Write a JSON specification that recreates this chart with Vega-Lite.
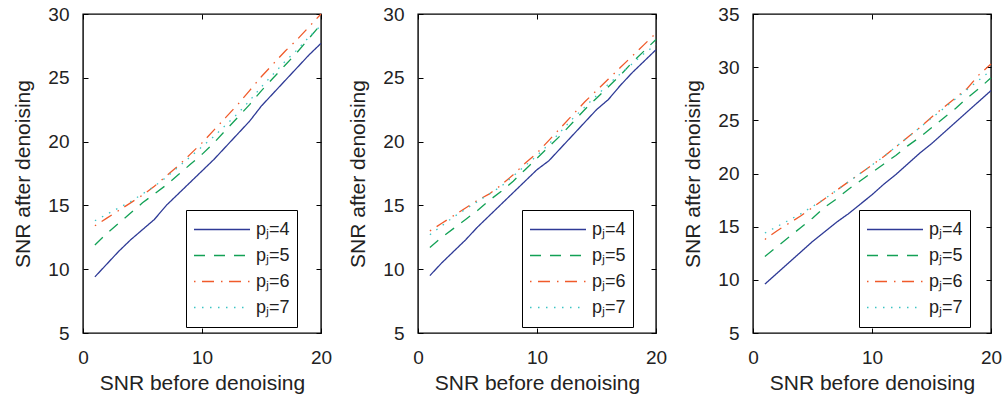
{
  "$schema": "https://vega.github.io/schema/vega-lite/v6.json",
  "padding": {"left": 12, "top": 4, "right": 0, "bottom": 0},
  "bounds": "flush",
  "spacing": 97,
  "config": {
    "font": "Liberation Sans",
    "view": {"stroke": "black", "strokeWidth": 1.4},
    "axis": {
      "domain": false, "grid": false, "ticks": true, "tickColor": "black", "tickWidth": 1,
      "tickSize": -5, "labelFont": "Liberation Sans", "labelFontSize": 19, "labelColor": "#222",
      "labelPadding": 20, "titleFont": "Liberation Sans", "titleFontSize": 21,
      "titleFontWeight": "normal", "titleColor": "#222", "labelFlush": false, "labelOverlap": false
    },
    "axisY": {"labelPadding": 19, "titlePadding": 14},
    "axisX": {"titlePadding": 5},
    "legend": {
      "title": null, "orient": "none", "legendY": 196, "strokeColor": "black", "fillColor": "white",
      "padding": 7, "symbolType": "stroke", "symbolSize": 3136, "symbolStrokeWidth": 1.3,
      "labelFontSize": 18, "labelFont": "Liberation Sans", "labelColor": "#222",
      "clipHeight": 25, "rowPadding": 1, "labelOffset": 5
    }
  },
  "datasets": {
    "p1": [
      {"x":1,"s":"pⱼ=4","y":9.4},{"x":2,"s":"pⱼ=4","y":10.4},{"x":3,"s":"pⱼ=4","y":11.4},{"x":4,"s":"pⱼ=4","y":12.3},{"x":5,"s":"pⱼ=4","y":13.1},{"x":6,"s":"pⱼ=4","y":13.9},{"x":7,"s":"pⱼ=4","y":15.0},{"x":8,"s":"pⱼ=4","y":15.9},{"x":9,"s":"pⱼ=4","y":16.8},{"x":10,"s":"pⱼ=4","y":17.7},{"x":11,"s":"pⱼ=4","y":18.6},{"x":12,"s":"pⱼ=4","y":19.6},{"x":13,"s":"pⱼ=4","y":20.6},{"x":14,"s":"pⱼ=4","y":21.6},{"x":15,"s":"pⱼ=4","y":22.8},{"x":16,"s":"pⱼ=4","y":23.8},{"x":17,"s":"pⱼ=4","y":24.8},{"x":18,"s":"pⱼ=4","y":25.8},{"x":19,"s":"pⱼ=4","y":26.8},{"x":20,"s":"pⱼ=4","y":27.7},
      {"x":1,"s":"pⱼ=5","y":11.9},{"x":2,"s":"pⱼ=5","y":12.8},{"x":3,"s":"pⱼ=5","y":13.6},{"x":4,"s":"pⱼ=5","y":14.4},{"x":5,"s":"pⱼ=5","y":15.2},{"x":6,"s":"pⱼ=5","y":15.9},{"x":7,"s":"pⱼ=5","y":16.6},{"x":8,"s":"pⱼ=5","y":17.4},{"x":9,"s":"pⱼ=5","y":18.2},{"x":10,"s":"pⱼ=5","y":19.0},{"x":11,"s":"pⱼ=5","y":19.9},{"x":12,"s":"pⱼ=5","y":20.9},{"x":13,"s":"pⱼ=5","y":21.9},{"x":14,"s":"pⱼ=5","y":22.9},{"x":15,"s":"pⱼ=5","y":24.0},{"x":16,"s":"pⱼ=5","y":25.0},{"x":17,"s":"pⱼ=5","y":26.0},{"x":18,"s":"pⱼ=5","y":27.0},{"x":19,"s":"pⱼ=5","y":28.1},{"x":20,"s":"pⱼ=5","y":29.2},
      {"x":1,"s":"pⱼ=6","y":13.4},{"x":2,"s":"pⱼ=6","y":14.0},{"x":3,"s":"pⱼ=6","y":14.6},{"x":4,"s":"pⱼ=6","y":15.2},{"x":5,"s":"pⱼ=6","y":15.8},{"x":6,"s":"pⱼ=6","y":16.5},{"x":7,"s":"pⱼ=6","y":17.3},{"x":8,"s":"pⱼ=6","y":18.1},{"x":9,"s":"pⱼ=6","y":19.0},{"x":10,"s":"pⱼ=6","y":19.9},{"x":11,"s":"pⱼ=6","y":20.9},{"x":12,"s":"pⱼ=6","y":21.9},{"x":13,"s":"pⱼ=6","y":22.9},{"x":14,"s":"pⱼ=6","y":24.0},{"x":15,"s":"pⱼ=6","y":25.1},{"x":16,"s":"pⱼ=6","y":26.1},{"x":17,"s":"pⱼ=6","y":27.1},{"x":18,"s":"pⱼ=6","y":28.0},{"x":19,"s":"pⱼ=6","y":29.0},{"x":20,"s":"pⱼ=6","y":30.0},
      {"x":1,"s":"pⱼ=7","y":13.8},{"x":2,"s":"pⱼ=7","y":14.3},{"x":3,"s":"pⱼ=7","y":14.8},{"x":4,"s":"pⱼ=7","y":15.3},{"x":5,"s":"pⱼ=7","y":15.9},{"x":6,"s":"pⱼ=7","y":16.5},{"x":7,"s":"pⱼ=7","y":17.2},{"x":8,"s":"pⱼ=7","y":18.0},{"x":9,"s":"pⱼ=7","y":18.8},{"x":10,"s":"pⱼ=7","y":19.6},{"x":11,"s":"pⱼ=7","y":20.4},{"x":12,"s":"pⱼ=7","y":21.3},{"x":13,"s":"pⱼ=7","y":22.2},{"x":14,"s":"pⱼ=7","y":23.2},{"x":15,"s":"pⱼ=7","y":24.3},{"x":16,"s":"pⱼ=7","y":25.3},{"x":17,"s":"pⱼ=7","y":26.3},{"x":18,"s":"pⱼ=7","y":27.2},{"x":19,"s":"pⱼ=7","y":28.2},{"x":20,"s":"pⱼ=7","y":29.1}
    ],
    "p2": [
      {"x":1,"s":"pⱼ=4","y":9.5},{"x":2,"s":"pⱼ=4","y":10.5},{"x":3,"s":"pⱼ=4","y":11.4},{"x":4,"s":"pⱼ=4","y":12.3},{"x":5,"s":"pⱼ=4","y":13.3},{"x":6,"s":"pⱼ=4","y":14.2},{"x":7,"s":"pⱼ=4","y":15.1},{"x":8,"s":"pⱼ=4","y":16.0},{"x":9,"s":"pⱼ=4","y":16.9},{"x":10,"s":"pⱼ=4","y":17.8},{"x":11,"s":"pⱼ=4","y":18.5},{"x":12,"s":"pⱼ=4","y":19.5},{"x":13,"s":"pⱼ=4","y":20.5},{"x":14,"s":"pⱼ=4","y":21.5},{"x":15,"s":"pⱼ=4","y":22.5},{"x":16,"s":"pⱼ=4","y":23.3},{"x":17,"s":"pⱼ=4","y":24.4},{"x":18,"s":"pⱼ=4","y":25.4},{"x":19,"s":"pⱼ=4","y":26.3},{"x":20,"s":"pⱼ=4","y":27.2},
      {"x":1,"s":"pⱼ=5","y":11.7},{"x":2,"s":"pⱼ=5","y":12.5},{"x":3,"s":"pⱼ=5","y":13.2},{"x":4,"s":"pⱼ=5","y":13.9},{"x":5,"s":"pⱼ=5","y":14.6},{"x":6,"s":"pⱼ=5","y":15.4},{"x":7,"s":"pⱼ=5","y":16.1},{"x":8,"s":"pⱼ=5","y":16.9},{"x":9,"s":"pⱼ=5","y":17.8},{"x":10,"s":"pⱼ=5","y":18.7},{"x":11,"s":"pⱼ=5","y":19.6},{"x":12,"s":"pⱼ=5","y":20.5},{"x":13,"s":"pⱼ=5","y":21.5},{"x":14,"s":"pⱼ=5","y":22.5},{"x":15,"s":"pⱼ=5","y":23.4},{"x":16,"s":"pⱼ=5","y":24.3},{"x":17,"s":"pⱼ=5","y":25.2},{"x":18,"s":"pⱼ=5","y":26.2},{"x":19,"s":"pⱼ=5","y":27.1},{"x":20,"s":"pⱼ=5","y":28.0},
      {"x":1,"s":"pⱼ=6","y":13.0},{"x":2,"s":"pⱼ=6","y":13.6},{"x":3,"s":"pⱼ=6","y":14.2},{"x":4,"s":"pⱼ=6","y":14.8},{"x":5,"s":"pⱼ=6","y":15.4},{"x":6,"s":"pⱼ=6","y":15.9},{"x":7,"s":"pⱼ=6","y":16.6},{"x":8,"s":"pⱼ=6","y":17.4},{"x":9,"s":"pⱼ=6","y":18.3},{"x":10,"s":"pⱼ=6","y":19.1},{"x":11,"s":"pⱼ=6","y":20.1},{"x":12,"s":"pⱼ=6","y":21.1},{"x":13,"s":"pⱼ=6","y":22.1},{"x":14,"s":"pⱼ=6","y":23.1},{"x":15,"s":"pⱼ=6","y":24.0},{"x":16,"s":"pⱼ=6","y":24.9},{"x":17,"s":"pⱼ=6","y":25.8},{"x":18,"s":"pⱼ=6","y":26.7},{"x":19,"s":"pⱼ=6","y":27.6},{"x":20,"s":"pⱼ=6","y":28.5},
      {"x":1,"s":"pⱼ=7","y":12.7},{"x":2,"s":"pⱼ=7","y":13.4},{"x":3,"s":"pⱼ=7","y":14.1},{"x":4,"s":"pⱼ=7","y":14.7},{"x":5,"s":"pⱼ=7","y":15.3},{"x":6,"s":"pⱼ=7","y":15.9},{"x":7,"s":"pⱼ=7","y":16.5},{"x":8,"s":"pⱼ=7","y":17.3},{"x":9,"s":"pⱼ=7","y":18.1},{"x":10,"s":"pⱼ=7","y":18.9},{"x":11,"s":"pⱼ=7","y":19.8},{"x":12,"s":"pⱼ=7","y":20.8},{"x":13,"s":"pⱼ=7","y":21.8},{"x":14,"s":"pⱼ=7","y":22.7},{"x":15,"s":"pⱼ=7","y":23.6},{"x":16,"s":"pⱼ=7","y":24.5},{"x":17,"s":"pⱼ=7","y":25.3},{"x":18,"s":"pⱼ=7","y":26.1},{"x":19,"s":"pⱼ=7","y":26.9},{"x":20,"s":"pⱼ=7","y":27.6}
    ],
    "p3": [
      {"x":1,"s":"pⱼ=4","y":9.6},{"x":2,"s":"pⱼ=4","y":10.6},{"x":3,"s":"pⱼ=4","y":11.6},{"x":4,"s":"pⱼ=4","y":12.6},{"x":5,"s":"pⱼ=4","y":13.6},{"x":6,"s":"pⱼ=4","y":14.5},{"x":7,"s":"pⱼ=4","y":15.4},{"x":8,"s":"pⱼ=4","y":16.2},{"x":9,"s":"pⱼ=4","y":17.1},{"x":10,"s":"pⱼ=4","y":18.0},{"x":11,"s":"pⱼ=4","y":19.0},{"x":12,"s":"pⱼ=4","y":19.9},{"x":13,"s":"pⱼ=4","y":20.9},{"x":14,"s":"pⱼ=4","y":21.9},{"x":15,"s":"pⱼ=4","y":22.8},{"x":16,"s":"pⱼ=4","y":23.8},{"x":17,"s":"pⱼ=4","y":24.8},{"x":18,"s":"pⱼ=4","y":25.8},{"x":19,"s":"pⱼ=4","y":26.8},{"x":20,"s":"pⱼ=4","y":27.8},
      {"x":1,"s":"pⱼ=5","y":12.2},{"x":2,"s":"pⱼ=5","y":13.1},{"x":3,"s":"pⱼ=5","y":14.0},{"x":4,"s":"pⱼ=5","y":14.9},{"x":5,"s":"pⱼ=5","y":15.8},{"x":6,"s":"pⱼ=5","y":16.8},{"x":7,"s":"pⱼ=5","y":17.6},{"x":8,"s":"pⱼ=5","y":18.5},{"x":9,"s":"pⱼ=5","y":19.3},{"x":10,"s":"pⱼ=5","y":20.1},{"x":11,"s":"pⱼ=5","y":20.9},{"x":12,"s":"pⱼ=5","y":21.7},{"x":13,"s":"pⱼ=5","y":22.6},{"x":14,"s":"pⱼ=5","y":23.4},{"x":15,"s":"pⱼ=5","y":24.3},{"x":16,"s":"pⱼ=5","y":25.2},{"x":17,"s":"pⱼ=5","y":26.1},{"x":18,"s":"pⱼ=5","y":27.1},{"x":19,"s":"pⱼ=5","y":28.0},{"x":20,"s":"pⱼ=5","y":29.0},
      {"x":1,"s":"pⱼ=6","y":13.8},{"x":2,"s":"pⱼ=6","y":14.6},{"x":3,"s":"pⱼ=6","y":15.3},{"x":4,"s":"pⱼ=6","y":16.0},{"x":5,"s":"pⱼ=6","y":16.8},{"x":6,"s":"pⱼ=6","y":17.6},{"x":7,"s":"pⱼ=6","y":18.4},{"x":8,"s":"pⱼ=6","y":19.2},{"x":9,"s":"pⱼ=6","y":20.0},{"x":10,"s":"pⱼ=6","y":20.8},{"x":11,"s":"pⱼ=6","y":21.6},{"x":12,"s":"pⱼ=6","y":22.5},{"x":13,"s":"pⱼ=6","y":23.4},{"x":14,"s":"pⱼ=6","y":24.3},{"x":15,"s":"pⱼ=6","y":25.3},{"x":16,"s":"pⱼ=6","y":26.2},{"x":17,"s":"pⱼ=6","y":27.1},{"x":18,"s":"pⱼ=6","y":28.0},{"x":19,"s":"pⱼ=6","y":29.3},{"x":20,"s":"pⱼ=6","y":30.3},
      {"x":1,"s":"pⱼ=7","y":14.4},{"x":2,"s":"pⱼ=7","y":15.0},{"x":3,"s":"pⱼ=7","y":15.6},{"x":4,"s":"pⱼ=7","y":16.2},{"x":5,"s":"pⱼ=7","y":16.9},{"x":6,"s":"pⱼ=7","y":17.6},{"x":7,"s":"pⱼ=7","y":18.4},{"x":8,"s":"pⱼ=7","y":19.2},{"x":9,"s":"pⱼ=7","y":20.0},{"x":10,"s":"pⱼ=7","y":20.8},{"x":11,"s":"pⱼ=7","y":21.6},{"x":12,"s":"pⱼ=7","y":22.5},{"x":13,"s":"pⱼ=7","y":23.4},{"x":14,"s":"pⱼ=7","y":24.3},{"x":15,"s":"pⱼ=7","y":25.2},{"x":16,"s":"pⱼ=7","y":26.1},{"x":17,"s":"pⱼ=7","y":27.0},{"x":18,"s":"pⱼ=7","y":27.9},{"x":19,"s":"pⱼ=7","y":28.8},{"x":20,"s":"pⱼ=7","y":29.7}
    ]
  },
  "resolve": {"scale": {"color": "independent", "strokeDash": "independent", "x": "independent", "y": "independent"}},
  "hconcat": [
    {
      "width": 238, "height": 319,
      "data": {"name": "p1"},
      "layer": [
        {
          "mark": {"type": "line", "strokeWidth": 1.3},
          "encoding": {
            "x": {"field": "x", "type": "quantitative", "scale": {"domain": [0, 20], "nice": false}, "axis": {"values": [0, 10, 20], "title": "SNR before denoising"}},
            "y": {"field": "y", "type": "quantitative", "scale": {"domain": [5, 30], "nice": false}, "axis": {"values": [5, 10, 15, 20, 25, 30], "title": "SNR after denoising"}},
            "color": {"field": "s", "type": "nominal", "scale": {"domain": ["pⱼ=4", "pⱼ=5", "pⱼ=6", "pⱼ=7"], "range": ["#2e3a96", "#12a155", "#f05a2a", "#3cc4c4"]},
              "legend": {"legendX": 103, "encode": {"symbols": {"update": {
                "stroke": {"signal": "datum.value == 'pⱼ=5' ? '#12a155' : datum.value == 'pⱼ=6' ? '#f05a2a' : datum.value == 'pⱼ=7' ? '#3cc4c4' : '#2e3a96'"},
                "strokeDash": {"signal": "datum.value == 'pⱼ=5' ? [11.5, 10.5] : datum.value == 'pⱼ=6' ? [1.5, 6.5, 12, 7] : datum.value == 'pⱼ=7' ? [1.5, 7] : [1, 0]"}}}}}},
            "strokeDash": {"field": "s", "type": "nominal", "scale": {"domain": ["pⱼ=4", "pⱼ=5", "pⱼ=6", "pⱼ=7"], "range": [[1, 0], [11, 9], [1.5, 6.5, 12, 7], [1.5, 6.5]]}, "legend": null}
          }
        },
        {
          "mark": {"type": "point", "opacity": 0},
          "encoding": {
            "x": {"field": "x", "type": "quantitative", "scale": {"domain": [0, 20], "nice": false}, "axis": {"orient": "top", "values": [0, 10, 20], "labels": false, "title": null}},
            "y": {"field": "y", "type": "quantitative", "scale": {"domain": [5, 30], "nice": false}, "axis": {"orient": "right", "values": [5, 10, 15, 20, 25, 30], "labels": false, "title": null}}
          }
        }
      ],
      "resolve": {"axis": {"x": "independent", "y": "independent"}}
    },
    {
      "width": 238, "height": 319,
      "data": {"name": "p2"},
      "layer": [
        {
          "mark": {"type": "line", "strokeWidth": 1.3},
          "encoding": {
            "x": {"field": "x", "type": "quantitative", "scale": {"domain": [0, 20], "nice": false}, "axis": {"values": [0, 10, 20], "title": "SNR before denoising"}},
            "y": {"field": "y", "type": "quantitative", "scale": {"domain": [5, 30], "nice": false}, "axis": {"values": [5, 10, 15, 20, 25, 30], "title": "SNR after denoising"}},
            "color": {"field": "s", "type": "nominal", "scale": {"domain": ["pⱼ=4", "pⱼ=5", "pⱼ=6", "pⱼ=7"], "range": ["#2e3a96", "#12a155", "#f05a2a", "#3cc4c4"]},
              "legend": {"legendX": 104, "encode": {"symbols": {"update": {
                "stroke": {"signal": "datum.value == 'pⱼ=5' ? '#12a155' : datum.value == 'pⱼ=6' ? '#f05a2a' : datum.value == 'pⱼ=7' ? '#3cc4c4' : '#2e3a96'"},
                "strokeDash": {"signal": "datum.value == 'pⱼ=5' ? [11.5, 10.5] : datum.value == 'pⱼ=6' ? [1.5, 6.5, 12, 7] : datum.value == 'pⱼ=7' ? [1.5, 7] : [1, 0]"}}}}}},
            "strokeDash": {"field": "s", "type": "nominal", "scale": {"domain": ["pⱼ=4", "pⱼ=5", "pⱼ=6", "pⱼ=7"], "range": [[1, 0], [11, 9], [1.5, 6.5, 12, 7], [1.5, 6.5]]}, "legend": null}
          }
        },
        {
          "mark": {"type": "point", "opacity": 0},
          "encoding": {
            "x": {"field": "x", "type": "quantitative", "scale": {"domain": [0, 20], "nice": false}, "axis": {"orient": "top", "values": [0, 10, 20], "labels": false, "title": null}},
            "y": {"field": "y", "type": "quantitative", "scale": {"domain": [5, 30], "nice": false}, "axis": {"orient": "right", "values": [5, 10, 15, 20, 25, 30], "labels": false, "title": null}}
          }
        }
      ],
      "resolve": {"axis": {"x": "independent", "y": "independent"}}
    },
    {
      "width": 238, "height": 319,
      "data": {"name": "p3"},
      "layer": [
        {
          "mark": {"type": "line", "strokeWidth": 1.3},
          "encoding": {
            "x": {"field": "x", "type": "quantitative", "scale": {"domain": [0, 20], "nice": false}, "axis": {"values": [0, 10, 20], "title": "SNR before denoising"}},
            "y": {"field": "y", "type": "quantitative", "scale": {"domain": [5, 35], "nice": false}, "axis": {"values": [5, 10, 15, 20, 25, 30, 35], "title": "SNR after denoising"}},
            "color": {"field": "s", "type": "nominal", "scale": {"domain": ["pⱼ=4", "pⱼ=5", "pⱼ=6", "pⱼ=7"], "range": ["#2e3a96", "#12a155", "#f05a2a", "#3cc4c4"]},
              "legend": {"legendX": 106, "encode": {"symbols": {"update": {
                "stroke": {"signal": "datum.value == 'pⱼ=5' ? '#12a155' : datum.value == 'pⱼ=6' ? '#f05a2a' : datum.value == 'pⱼ=7' ? '#3cc4c4' : '#2e3a96'"},
                "strokeDash": {"signal": "datum.value == 'pⱼ=5' ? [11.5, 10.5] : datum.value == 'pⱼ=6' ? [1.5, 6.5, 12, 7] : datum.value == 'pⱼ=7' ? [1.5, 7] : [1, 0]"}}}}}},
            "strokeDash": {"field": "s", "type": "nominal", "scale": {"domain": ["pⱼ=4", "pⱼ=5", "pⱼ=6", "pⱼ=7"], "range": [[1, 0], [11, 9], [1.5, 6.5, 12, 7], [1.5, 6.5]]}, "legend": null}
          }
        },
        {
          "mark": {"type": "point", "opacity": 0},
          "encoding": {
            "x": {"field": "x", "type": "quantitative", "scale": {"domain": [0, 20], "nice": false}, "axis": {"orient": "top", "values": [0, 10, 20], "labels": false, "title": null}},
            "y": {"field": "y", "type": "quantitative", "scale": {"domain": [5, 35], "nice": false}, "axis": {"orient": "right", "values": [5, 10, 15, 20, 25, 30, 35], "labels": false, "title": null}}
          }
        }
      ],
      "resolve": {"axis": {"x": "independent", "y": "independent"}}
    }
  ]
}
